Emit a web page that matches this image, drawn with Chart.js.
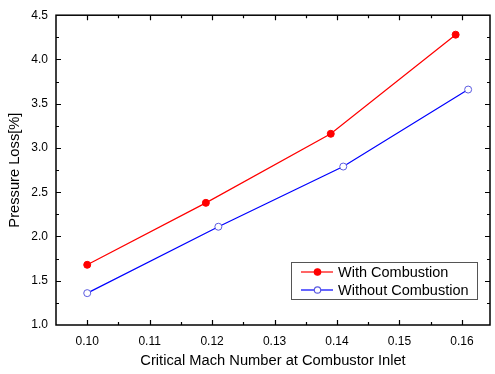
<!DOCTYPE html>
<html>
<head>
<meta charset="utf-8">
<script src="https://cdn.jsdelivr.net/npm/chart.js@4.4.0/dist/chart.umd.min.js"></script>
<style>
  html, body { margin: 0; padding: 0; background: #fff; }
  #wrap { width: 495px; height: 374px; }
</style>
</head>
<body>
<div id="wrap"><canvas id="lossChart" width="495" height="374"></canvas></div>
<script>
// data
var withX = [0.100, 0.119, 0.139, 0.159];
var withY = [1.68, 2.38, 3.16, 4.28];
var withoutX = [0.100, 0.121, 0.141, 0.161];
var withoutY = [1.36, 2.11, 2.79, 3.66];
var seriesNames = ["With Combustion", "Without Combustion"];
var xTicks = [0.10, 0.11, 0.12, 0.13, 0.14, 0.15, 0.16];
var yTicks = [1.0, 1.5, 2.0, 2.5, 3.0, 3.5, 4.0, 4.5];

Chart.defaults.font.family = "'Liberation Sans', Arial, sans-serif";
Chart.defaults.color = "#000";

function toPoints(xs, ys) {
    return xs.map(function (x, i) { return { x: x, y: ys[i] }; });
}

// inward ticks (major + minor) on all 4 sides, the frame, and the legend box
var frameTicks = {
    id: "frameTicks",
    afterDraw: function (chart) {
        var ctx = chart.ctx;
        var a = chart.chartArea;
        var xs = chart.scales.x, ys = chart.scales.y;
        ctx.save();
        ctx.strokeStyle = "#000";
        ctx.lineWidth = 1.5;
        ctx.strokeRect(a.left, a.top, a.right - a.left, a.bottom - a.top);
        ctx.lineWidth = 1.2;
        ctx.beginPath();
        var i, px, len;
        for (i = 0; i < xTicks.length * 2 + 1; i++) {
            var xv = xTicks[0] - 0.005 + i * 0.005;
            px = Math.round(xs.getPixelForValue(xv)) + 0.5;
            if (px < a.left + 1 || px > a.right - 1) continue;
            len = (i % 2 === 1) ? 5 : 3;
            ctx.moveTo(px, a.bottom); ctx.lineTo(px, a.bottom - len);
            ctx.moveTo(px, a.top); ctx.lineTo(px, a.top + len);
        }
        for (i = 0; i < (yTicks.length - 1) * 2 + 1; i++) {
            var yv = yTicks[0] + i * 0.25;
            px = Math.round(ys.getPixelForValue(yv)) + 0.5;
            if (px < a.top + 1 || px > a.bottom - 1) continue;
            len = (i % 2 === 0) ? 5 : 3;
            ctx.moveTo(a.left, px); ctx.lineTo(a.left + len, px);
            ctx.moveTo(a.right, px); ctx.lineTo(a.right - len, px);
        }
        ctx.stroke();

        // legend box
        var bx = 291, by = 262, bw = 186, bh = 37;
        ctx.fillStyle = "#fff";
        ctx.fillRect(bx, by, bw, bh);
        ctx.strokeStyle = "#555";
        ctx.lineWidth = 1;
        ctx.strokeRect(bx + 0.5, by + 0.5, bw, bh);
        ctx.font = "14.5px 'Liberation Sans', Arial, sans-serif";
        ctx.textBaseline = "middle";
        chart.data.datasets.forEach(function (ds, k) {
            var cy = by + 10 + k * 18;
            ctx.strokeStyle = ds.borderColor;
            ctx.lineWidth = 1.2;
            ctx.beginPath();
            ctx.moveTo(bx + 10, cy); ctx.lineTo(bx + 42, cy);
            ctx.stroke();
            ctx.beginPath();
            ctx.arc(bx + 26.5, cy, 3.2, 0, Math.PI * 2);
            ctx.fillStyle = ds.pointBackgroundColor;
            ctx.fill();
            ctx.strokeStyle = ds.pointBorderColor;
            ctx.stroke();
            ctx.fillStyle = "#000";
            ctx.fillText(ds.label, bx + 47, cy + 1);
        });
        ctx.restore();
    }
};

var lossChart = new Chart(document.getElementById("lossChart"), {
    type: "scatter",
    data: {
        datasets: [
            {
                label: seriesNames[0],
                data: toPoints(withX, withY),
                showLine: true,
                borderColor: "#ff0000",
                borderWidth: 1.2,
                pointRadius: 3.5,
                pointBackgroundColor: "#ff0000",
                pointBorderColor: "#ff0000",
                pointBorderWidth: 1
            },
            {
                label: seriesNames[1],
                data: toPoints(withoutX, withoutY),
                showLine: true,
                borderColor: "#0000ff",
                borderWidth: 1.2,
                pointRadius: 3.5,
                pointBackgroundColor: "#ffffff",
                pointBorderColor: "#5a5ae0",
                pointBorderWidth: 1
            }
        ]
    },
    options: {
        responsive: false,
        animation: false,
        layout: { padding: { left: 0, top: 15, right: 4, bottom: 0 } },
        plugins: {
            legend: { display: false },
            tooltip: { enabled: false }
        },
        scales: {
            x: {
                type: "linear",
                min: 0.095,
                max: 0.1645,
                grid: { display: false, drawTicks: false },
                border: { display: false },
                afterBuildTicks: function (scale) {
                    scale.ticks = xTicks.map(function (v) { return { value: v }; });
                },
                afterFit: function (scale) { scale.height = 49; },
                ticks: {
                    padding: 9,
                    font: { size: 12 },
                    callback: function (v) { return v.toFixed(2); }
                },
                title: {
                    display: true,
                    text: "Critical Mach Number at Combustor Inlet",
                    font: { size: 14.7 },
                    padding: { top: 3 }
                }
            },
            y: {
                min: 1.0,
                max: 4.5,
                grid: { display: false, drawTicks: false },
                border: { display: false },
                afterBuildTicks: function (scale) {
                    scale.ticks = yTicks.map(function (v) { return { value: v }; });
                },
                afterFit: function (scale) { scale.width = 56; },
                ticks: {
                    padding: 8,
                    font: { size: 12 },
                    callback: function (v) { return v.toFixed(1); }
                },
                title: {
                    display: true,
                    text: "Pressure Loss[%]",
                    font: { size: 14.7 },
                    padding: { top: 6, bottom: 0 }
                }
            }
        }
    },
    plugins: [frameTicks]
});
</script>
</body>
</html>
